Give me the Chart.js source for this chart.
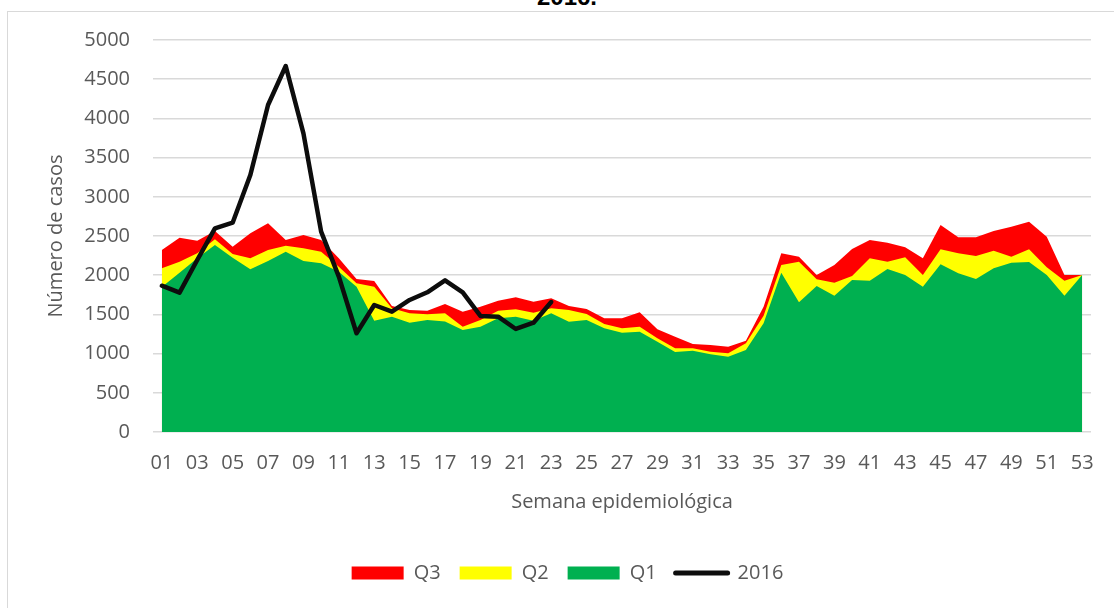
<!DOCTYPE html>
<html>
<head>
<meta charset="utf-8">
<script src="https://cdn.jsdelivr.net/npm/chart.js@4.4.1/dist/chart.umd.min.js"></script>
<style>
  html, body { margin: 0; padding: 0; background: #fff; overflow: hidden; }
  #wrap { position: relative; width: 1114px; height: 608px; overflow: hidden; }
  #frame { position: absolute; left: 7px; top: 11px; width: 1130px; height: 620px; border: 1.5px solid #D9D9D9; box-sizing: border-box; }
  #title { position: absolute; top: -15px; left: 0; width: 1134px; text-align: center; font: bold 24px "Liberation Sans", Arial, sans-serif; line-height: 24px; color: #000; }
  canvas { position: absolute; left: 0; top: 0; }
</style>
</head>
<body>
<div id="wrap">
  <div id="frame"></div>
  <div id="title">2016.</div>
  <canvas id="c" width="1114" height="608"></canvas>
</div>
<script>
const weeks = ['01','02','03','04','05','06','07','08','09','10','11','12','13','14','15','16','17','18','19','20','21','22','23','24','25','26','27','28','29','30','31','32','33','34','35','36','37','38','39','40','41','42','43','44','45','46','47','48','49','50','51','52','53'];

const q3 = [2321,2479,2441,2564,2364,2534,2662,2449,2513,2449,2215,1952,1926,1607,1556,1547,1633,1535,1599,1675,1718,1662,1705,1607,1569,1450,1450,1526,1310,1216,1122,1110,1088,1165,1599,2279,2236,2003,2130,2334,2449,2415,2356,2215,2640,2483,2483,2564,2619,2683,2491,2003,2003];

const q2 = [2088,2173,2279,2458,2270,2215,2321,2377,2343,2300,2108,1897,1853,1578,1514,1501,1514,1343,1429,1547,1565,1522,1578,1556,1505,1378,1322,1343,1195,1067,1067,1024,1003,1131,1484,2130,2173,1948,1905,1990,2215,2173,2228,2003,2330,2279,2245,2313,2236,2330,2101,1930,2003];

const q1 = [1850,2032,2215,2385,2224,2075,2181,2300,2181,2152,2045,1853,1420,1471,1394,1429,1410,1301,1343,1450,1471,1420,1514,1407,1429,1322,1267,1280,1152,1020,1037,991,961,1046,1386,2032,1654,1862,1739,1939,1930,2079,2003,1853,2139,2024,1952,2088,2160,2168,2003,1739,2003];

const y2016 = [1866,1777,2194,2598,2670,3278,4171,4668,3809,2555,1981,1259,1620,1535,1684,1782,1935,1780,1480,1471,1314,1394,1658];

const yTicks = [0,500,1000,1500,2000,2500,3000,3500,4000,4500,5000];

const FONT = '"Open Sans", "Noto Sans", sans-serif';
const TXT = '#595959';

Chart.defaults.font.family = FONT;
Chart.defaults.color = TXT;

const area = (label, data, color, order) => ({
  type: 'line', label, data, order,
  backgroundColor: color, borderColor: color, borderWidth: 0,
  pointRadius: 0, pointHoverRadius: 0, fill: 'origin', tension: 0
});

new Chart(document.getElementById('c'), {
  data: {
    labels: weeks,
    datasets: [
      area('Q3', q3, '#FF0000', 3),
      area('Q2', q2, '#FFFF00', 2),
      area('Q1', q1, '#00B050', 1),
      {
        type: 'line', label: '2016', data: y2016, order: 0,
        borderColor: '#0D0D0D', backgroundColor: '#0D0D0D', borderWidth: 4.5,
        borderJoinStyle: 'round', borderCapStyle: 'round',
        pointRadius: 0, pointHoverRadius: 0, fill: false, tension: 0
      }
    ]
  },
  options: {
    responsive: false,
    animation: false,
    events: [],
    layout: { padding: { left: 44, right: 23, top: 40, bottom: 15 } },
    scales: {
      x: {
        type: 'category',
        offset: true,
        grid: { display: false, drawTicks: false },
        border: { display: false },
        ticks: {
          autoSkip: false, maxRotation: 0, minRotation: 0, padding: 19,
          font: { size: 20 }, color: TXT,
          callback: (v, i) => (i % 2 === 0 ? weeks[i] : '')
        },
        title: { display: true, text: 'Semana epidemiológica', font: { size: 20 }, color: TXT, padding: { top: 0, bottom: 30 } },
        afterFit: (s) => { s.height = 112; }
      },
      y: {
        min: 0, max: 5000,
        afterBuildTicks: (s) => { s.ticks = yTicks.map(v => ({ value: v })); },
        grid: { color: '#D9D9D9', lineWidth: 1.5, drawTicks: false },
        border: { display: false },
        ticks: { padding: 23, font: { size: 20 }, color: TXT, callback: (v) => String(v) },
        title: { display: true, text: 'Número de casos', font: { size: 20 }, color: TXT, padding: { top: 0, bottom: 0 } },
        afterFit: (s) => { s.width = 109; }
      }
    },
    plugins: {
      tooltip: { enabled: false },
      legend: {
        position: 'bottom',
        align: 'center',
        labels: {
          usePointStyle: true,
          pointStyleWidth: 52,
          boxHeight: 13,
          padding: 19,
          font: { size: 20 },
          color: TXT,
          generateLabels: (chart) => chart.data.datasets.map((ds, i) => ({
            text: ds.label,
            fillStyle: ds.backgroundColor,
            strokeStyle: ds.borderColor,
            lineWidth: ds.fill === false ? 5 : 0,
            lineCap: 'round',
            pointStyle: ds.fill === false ? 'line' : 'rect',
            fontColor: TXT,
            hidden: false,
            datasetIndex: i
          }))
        }
      }
    }
  }
});
</script>
</body>
</html>
